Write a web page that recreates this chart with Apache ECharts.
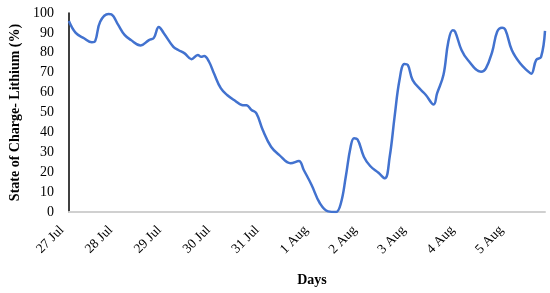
<!DOCTYPE html>
<html>
<head>
<meta charset="utf-8">
<script src="https://cdn.jsdelivr.net/npm/echarts@6/dist/echarts.min.js"></script>
<style>
html,body{margin:0;padding:0;background:#fff;}
#c{width:550px;height:293px;}
</style>
</head>
<body>
<div id="c"></div>
<script>
// Tick labels for each day
var dayLabels = ['27 Jul','28 Jul','29 Jul','30 Jul','31 Jul','1 Aug','2 Aug','3 Aug','4 Aug','5 Aug'];
// Time in days since 27 Jul
var days = [0.0,0.14,0.31,0.47,0.54,0.64,0.81,0.87,1.01,1.14,1.27,1.47,1.64,1.74,1.84,1.94,2.14,2.24,2.37,2.51,2.64,2.71,2.77,2.87,2.97,3.11,3.24,3.41,3.54,3.64,3.74,3.84,3.97,4.14,4.31,4.54,4.71,4.81,4.97,5.14,5.31,5.47,5.57,5.67,5.77,5.84,5.91,6.04,6.17,6.34,6.47,6.57,6.67,6.77,6.87,6.94,7.04,7.21,7.31,7.47,7.54,7.67,7.77,7.86,7.91,8.04,8.17,8.44,8.54,8.67,8.77,8.87,8.94,9.07,9.24,9.41,9.47,9.57,9.67,9.75];
// State of charge (%)
var soc = [96,90,87.3,85.3,86,95.6,99.5,99.3,94,89,86.4,83.7,86.4,87.5,93,90,83,81.4,79.7,76.8,78.9,78,78.4,75.5,69.7,62.2,58.8,55.8,53.8,53.6,51.3,49.6,41.2,32.8,28.6,24.5,25.6,21.1,13.6,4.4,0.3,0,4.4,17.7,32.8,37,36.5,27.8,23.1,19.7,16.9,27.8,47.9,66.3,74.4,73.9,66.3,61.3,58.8,54,59.6,68.8,85.6,91.3,90.6,81.4,76.4,70.5,72.2,80.6,90.6,92.6,91.5,81.4,74.7,70.5,69.5,76.4,78,91];
var yTicks = [0,10,20,30,40,50,60,70,80,90,100];

var data = days.map(function(d,i){return [d, soc[i]];});
var chart = echarts.init(document.getElementById('c'), null, {renderer:'canvas'});
var serif = '"Liberation Serif","Times New Roman",serif';
chart.setOption({
  animation:false,
  backgroundColor:'#fff',
  grid:{left:58, right:5, top:13, bottom:81, containLabel:false},
  xAxis:{
    type:'value', min:0, max:9.75, interval:1,
    name:'Days', nameLocation:'middle', nameGap:61,
    nameTextStyle:{fontFamily:serif, fontWeight:'bold', fontSize:14, color:'#000', padding:[0,0,0,10]},
    axisLine:{show:true, lineStyle:{color:'#d0d0d0', width:2}},
    axisTick:{show:false},
    splitLine:{show:false},
    axisLabel:{
      rotate:45, margin:9, fontFamily:serif, fontSize:13.5, color:'#000',
      padding:[0,10,0,0],
      showMaxLabel:false,
      formatter:function(v){ return (Math.abs(v-Math.round(v))<1e-6 && dayLabels[Math.round(v)]) ? dayLabels[Math.round(v)] : ''; }
    }
  },
  yAxis:{
    type:'value', min:yTicks[0], max:yTicks[yTicks.length-1], interval:10,
    name:'State of Charge- Lithium (%)', nameLocation:'middle', nameGap:39,
    nameTextStyle:{fontFamily:serif, fontWeight:'bold', fontSize:14, color:'#000'},
    axisLine:{show:true, lineStyle:{color:'#000', width:1.5}},
    axisTick:{show:false},
    splitLine:{show:false},
    axisLabel:{fontFamily:serif, fontSize:14, color:'#000', margin:15}
  },
  series:[{
    type:'line', data:data, smooth:0.4, showSymbol:false,
    lineStyle:{color:'#4272cf', width:2.5}
  }]
});
</script>
</body>
</html>
